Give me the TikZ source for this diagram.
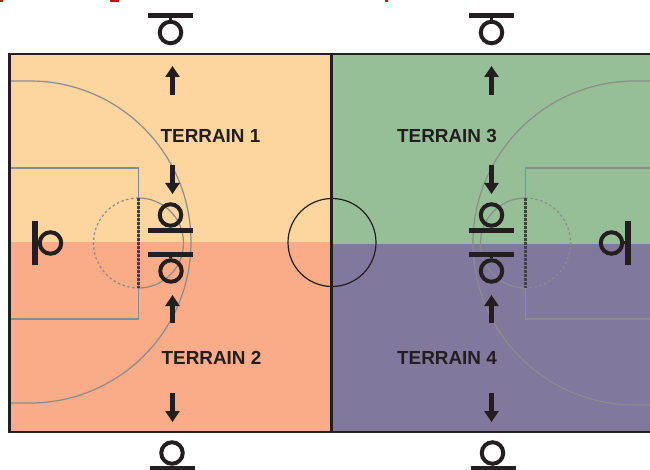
\documentclass[tikz,border=0pt]{standalone}
\usepackage{fontspec}
\setmainfont{Liberation Sans}
\usetikzlibrary{arrows.meta}

\definecolor{terrainA}{HTML}{FCD59F}
\definecolor{terrainB}{HTML}{F9AC87}
\definecolor{terrainC}{HTML}{97BF97}
\definecolor{terrainD}{HTML}{80789D}
\definecolor{ink}{HTML}{231F20}
\definecolor{courtline}{HTML}{8C8C8C}

\tikzset{
	terrain/.style={font=\bfseries\fontsize{18.9}{20}\selectfont, text=ink, inner sep=0pt},
	courtmark/.style={draw=courtline, line width=1.2pt},
	freeline/.style={ink!85, line width=2.2pt, dash pattern=on 3pt off 1pt},
	move/.style={ink, line width=4.4pt, -{Triangle[length=11pt,width=14pt]}},
	hoopbar/.style={ink, line width=5pt},
	hoopstem/.style={ink, line width=3pt},
	hoopring/.style={draw=ink, line width=4pt, circle, minimum size=21.5pt, inner sep=0pt},
}

\begin{document}
\begin{tikzpicture}[x=1pt, y=-1pt]
	\useasboundingbox (0,0) rectangle (650,470);

	% clipped red line at the top edge
	\fill[red!85!black] (0,0) rectangle (3,2) (110,0) rectangle (119,2) (385,0) rectangle (388,2);

	\begin{scope}
		\clip (9.5,54) rectangle (650,432);
		\fill[terrainA] (9.5,54) rectangle (331,242);
		\fill[terrainB] (9.5,242) rectangle (331,432);
		\fill[terrainC] (331,54) rectangle (650,244);
		\fill[terrainD] (331,244) rectangle (650,432);

		% left half court
		\draw[courtmark] (9.5,81) -- (30,81) arc[start angle=-90, end angle=90, radius=161] -- (9.5,403);
		\draw[courtmark] (9.5,168) -- (138.5,168) -- (138.5,319) -- (9.5,319);
		\draw[courtmark] (138.5,198) arc[start angle=-90, end angle=90, radius=45];
		\draw[courtmark, dash pattern=on 2.5pt off 2.5pt] (138.5,198) arc[start angle=-90, end angle=-270, radius=45];
		\draw[freeline] (138.5,198) -- (138.5,288);

		% right half court
		\draw[courtmark] (650,81) -- (635,81) arc[start angle=-90, end angle=-270, radius=162] -- (650,405);
		\draw[courtmark] (650,168) -- (525.5,168) -- (525.5,319) -- (650,319);
		\draw[courtmark] (525.5,198) arc[start angle=-90, end angle=-270, radius=45];
		\draw[courtmark, dash pattern=on 2.5pt off 2.5pt] (525.5,198) arc[start angle=-90, end angle=90, radius=45];
		\draw[freeline] (525.5,198) -- (525.5,288);
	\end{scope}

	\draw[ink, line width=1.2pt] (332,242.5) circle[radius=44];
	\draw[ink, line width=2.6pt] (650,54) -- (9.5,54) -- (9.5,432) -- (650,432);
	\draw[ink, line width=3pt] (331,54) -- (331,432);

	\node[terrain] (t1) at (210.5,136) {TERRAIN 1};
	\node[terrain] (t2) at (211.5,358) {TERRAIN 2};
	\node[terrain] (t3) at (447,136) {TERRAIN 3};
	\node[terrain] (t4) at (447,358) {TERRAIN 4};

	% players around the court
	\foreach \name/\cx/\cy/\bx/\by in {
		a/170.5/32.5/170.5/15.5,
		b/170.5/215/170.5/231,
		c/171/271/170.5/254.5,
		d/172/453/172/468,
		e/491.5/32.5/491.5/15.5,
		f/491.5/215/491.5/231,
		g/491.5/271/491.5/254.5,
		h/492.5/453/493/468}{
		\node[hoopring] (ring\name) at (\cx,\cy) {};
		\coordinate (stem\name) at (\bx,\by);
		\draw[hoopstem] (ring\name) -- (stem\name);
		\draw[hoopbar] ([xshift=-22.5pt]stem\name) -- ([xshift=22.5pt]stem\name);
	}
	\foreach \name/\cx/\bx in {i/50.5/35, j/611.5/628}{
		\node[hoopring] (ring\name) at (\cx,243) {};
		\coordinate (stem\name) at (\bx,243);
		\draw[hoopstem] (ring\name) -- (stem\name);
		\draw[hoopbar, line width=5.4pt] ([yshift=-22pt]stem\name) -- ([yshift=22pt]stem\name);
	}

	% arrows
	\foreach \x in {172.5,491.5}{
		\draw[move] (\x,95) -- (\x,66);
		\draw[move] (\x,165) -- (\x,194);
		\draw[move] (\x,323) -- (\x,295);
		\draw[move] (\x,393) -- (\x,422);
	}
\end{tikzpicture}
\end{document}
